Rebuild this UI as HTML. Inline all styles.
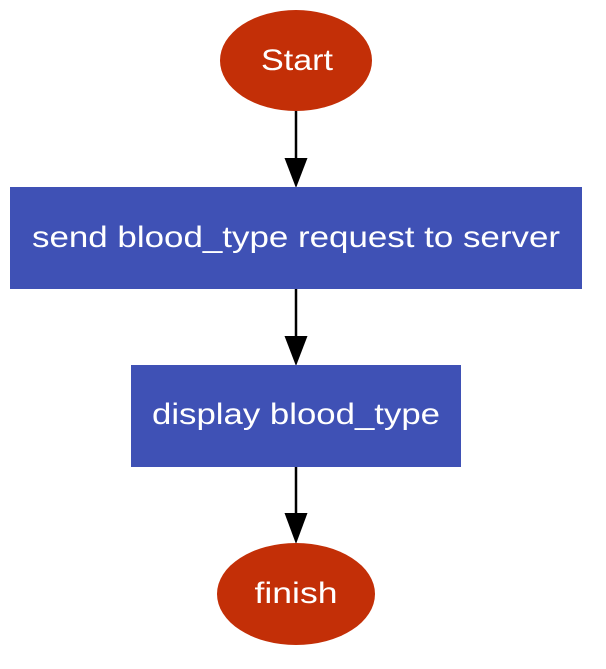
<!DOCTYPE html>
<html><head><style>html,body{margin:0;padding:0;background:#fff}svg{display:block}</style></head><body>
<svg width="606" height="669" viewBox="0 0 606 669" xmlns="http://www.w3.org/2000/svg">
<g font-family="Liberation Sans, DejaVu Sans, sans-serif" font-size="30" fill="#fff" text-anchor="middle">
<ellipse cx="296" cy="60.5" rx="76" ry="50.5" fill="#c32f07"/>
<text x="297" y="70" textLength="72" lengthAdjust="spacingAndGlyphs">Start</text>
<line x1="296" y1="111" x2="296" y2="160" stroke="#000" stroke-width="2.5"/>
<polygon points="284.5,158 307.5,158 296,188" fill="#000"/>
<rect x="10" y="187" width="572" height="102" fill="#3f51b5"/>
<text x="296" y="247" textLength="528" lengthAdjust="spacingAndGlyphs">send blood_type request to server</text>
<line x1="296" y1="289" x2="296" y2="338" stroke="#000" stroke-width="2.5"/>
<polygon points="284.5,336 307.5,336 296,366" fill="#000"/>
<rect x="131" y="365" width="330" height="102" fill="#3f51b5"/>
<text x="296" y="424" textLength="288" lengthAdjust="spacingAndGlyphs">display blood_type</text>
<line x1="296" y1="467" x2="296" y2="515" stroke="#000" stroke-width="2.5"/>
<polygon points="284.5,513 307.5,513 296,544" fill="#000"/>
<ellipse cx="296" cy="594" rx="79" ry="51" fill="#c32f07"/>
<text x="296" y="603" textLength="83" lengthAdjust="spacingAndGlyphs">finish</text>
</g>
</svg>
</body></html>
